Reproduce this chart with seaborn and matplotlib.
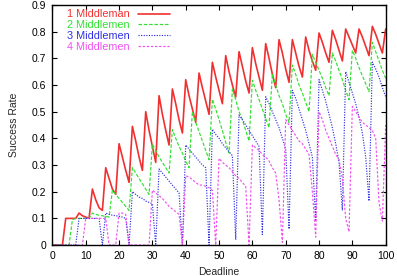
import numpy as np
import pandas as pd
import matplotlib
matplotlib.use("Agg")
import matplotlib.pyplot as plt
import seaborn as sns
from matplotlib.lines import Line2D

# Deadline 0..100
deadline = list(range(0, 101))

# Success rate
one_mm = [0, 0, 0, 0, 0.10, 0.10, 0.10, 0.10, 0.12, 0.11,
          0.105, 0.10, 0.21, 0.17, 0.14, 0.13, 0.29, 0.25, 0.21, 0.19,
          0.38, 0.33, 0.28, 0.235, 0.445, 0.39, 0.33, 0.28, 0.50, 0.43,
          0.37, 0.31, 0.56, 0.49, 0.43, 0.375, 0.585, 0.53, 0.47, 0.42,
          0.62, 0.56, 0.51, 0.46, 0.645, 0.59, 0.54, 0.49, 0.685, 0.63,
          0.58, 0.53, 0.71, 0.65, 0.60, 0.555, 0.725, 0.67, 0.615, 0.57,
          0.74, 0.68, 0.63, 0.58, 0.755, 0.70, 0.64, 0.59, 0.77, 0.72,
          0.66, 0.61, 0.77, 0.72, 0.67, 0.63, 0.78, 0.73, 0.69, 0.655,
          0.795, 0.76, 0.72, 0.685, 0.805, 0.77, 0.73, 0.69, 0.81, 0.78,
          0.75, 0.72, 0.81, 0.78, 0.745, 0.71, 0.82, 0.79, 0.755, 0.72,
          0.81]

two_mm = [0, 0, 0, 0, 0, 0, 0.095, 0.10, 0.10, 0.10,
          0.10, 0.10, 0.12, 0.115, 0.112, 0.11, 0.107, 0.105, 0.205, 0.19,
          0.175, 0.16, 0.145, 0.13, 0.29, 0.27, 0.25, 0.23, 0.21, 0.19,
          0.378, 0.355, 0.33, 0.31, 0.29, 0.27, 0.433, 0.40, 0.37, 0.345,
          0.315, 0.29, 0.50, 0.46, 0.425, 0.39, 0.355, 0.32, 0.547, 0.51,
          0.47, 0.43, 0.385, 0.345, 0.585, 0.545, 0.50, 0.47, 0.43, 0.39,
          0.618, 0.58, 0.545, 0.51, 0.475, 0.44, 0.642, 0.60, 0.56, 0.53,
          0.49, 0.46, 0.675, 0.64, 0.60, 0.57, 0.535, 0.50, 0.715, 0.685,
          0.655, 0.625, 0.59, 0.56, 0.72, 0.69, 0.655, 0.62, 0.58, 0.545,
          0.73, 0.70, 0.665, 0.635, 0.605, 0.575, 0.76, 0.725, 0.69, 0.655,
          0.625]

three_mm = [0, 0, 0, 0, 0, 0, 0, 0, 0.10, 0.10,
            0.10, 0.10, 0.10, 0.10, 0.10, 0, 0.12, 0.115, 0.112, 0.11,
            0.108, 0.105, 0.10, 0, 0.20, 0.19, 0.18, 0.175, 0.165, 0.16,
            0.155, 0, 0.285, 0.27, 0.255, 0.24, 0.225, 0.21, 0.195, 0,
            0.375, 0.36, 0.345, 0.33, 0.315, 0.30, 0.29, 0, 0.434, 0.415,
            0.40, 0.38, 0.365, 0.35, 0.335, 0.02, 0.4875, 0.47, 0.45, 0.43,
            0.41, 0.39, 0.37, 0.04, 0.556, 0.53, 0.50, 0.47, 0.44, 0.40,
            0.36, 0.06, 0.58, 0.55, 0.51, 0.47, 0.43, 0.38, 0.33, 0.09,
            0.62, 0.58, 0.54, 0.49, 0.44, 0.38, 0.31, 0.13, 0.65, 0.61,
            0.57, 0.53, 0.48, 0.42, 0.33, 0.165, 0.686, 0.66, 0.63, 0.59,
            0.556]

four_mm = [0, 0, 0, 0, 0, 0, 0, 0, 0, 0,
           0.10, 0.10, 0.10, 0.10, 0.10, 0.10, 0.10, 0, 0, 0,
           0.12, 0.12, 0.115, 0, 0, 0, 0, 0, 0, 0,
           0.206, 0.195, 0.185, 0.175, 0.16, 0.145, 0.135, 0.125, 0.115, 0,
           0.26, 0.255, 0.245, 0.235, 0.225, 0.225, 0.22, 0.215, 0.205, 0,
           0.325, 0.31, 0.30, 0.29, 0.275, 0.26, 0.25, 0.235, 0.22, 0,
           0.375, 0.365, 0.355, 0.34, 0.33, 0.315, 0.29, 0.27, 0.17, 0.01,
           0.47, 0.45, 0.43, 0.41, 0.39, 0.38, 0.36, 0.34, 0.20, 0.03,
           0.50, 0.47, 0.43, 0.40, 0.37, 0.34, 0.32, 0.25, 0.10, 0.05,
           0.52, 0.50, 0.48, 0.46, 0.45, 0.44, 0.43, 0.40, 0.16, 0.09,
           0.45]

labels = ["1 Middleman", "2 Middlemen", "3 Middlemen", "4 Middlemen"]
colors = ["#f03030", "#30e030", "#3030e0", "#f050f0"]
xticks = [0, 10, 20, 30, 40, 50, 60, 70, 80, 90, 100]
yticks = [0, 0.1, 0.2, 0.3, 0.4, 0.5, 0.6, 0.7, 0.8, 0.9]
ytick_labels = ["0", "0.1", "0.2", "0.3", "0.4", "0.5", "0.6", "0.7", "0.8", "0.9"]

df = pd.DataFrame({
    "Deadline": deadline * 4,
    "Success Rate": one_mm + two_mm + three_mm + four_mm,
    "series": [l for l in labels for _ in deadline],
})

sns.set_style("ticks")
plt.rcParams["font.family"] = ["Liberation Sans", "DejaVu Sans"]

fig = plt.figure(figsize=(3.97, 2.76), dpi=100)
ax = fig.add_axes([0.132, 0.112, 0.8395, 0.870])

dash_map = {labels[0]: "", labels[1]: (3, 1.5), labels[2]: (1, 1.2), labels[3]: (2, 1.5)}
sns.lineplot(data=df, x="Deadline", y="Success Rate", hue="series", style="series",
             palette=dict(zip(labels, colors)), dashes=dash_map, ax=ax, legend=False,
             linewidth=0.85)
# first line a bit heavier, like the original
ax.lines[0].set_linewidth(1.2)

ax.set_xlim(0, 100)
ax.set_ylim(0, 0.9)
ax.set_xticks(xticks)
ax.set_yticks(yticks)
ax.set_yticklabels(ytick_labels)
ax.tick_params(direction="in", length=3.5, width=0.8, top=True, right=True,
               labelsize=7.5, pad=4.5, colors="black")
for s in ax.spines.values():
    s.set_visible(True)
    s.set_linewidth(1.0)
    s.set_color("black")
ax.set_xlabel("Deadline", fontsize=7.5, labelpad=4)
ax.set_ylabel("Success Rate", fontsize=7.5, labelpad=9)

handles = [Line2D([], [], color=colors[0], lw=1.2),
           Line2D([], [], color=colors[1], lw=0.85, dashes=(3, 1.5)),
           Line2D([], [], color=colors[2], lw=0.85, dashes=(1, 1.2)),
           Line2D([], [], color=colors[3], lw=0.85, dashes=(2, 1.5))]
leg = ax.legend(handles, labels, loc="upper left", bbox_to_anchor=(0.03, 1.0),
                frameon=False, fontsize=7.8, markerfirst=False, handlelength=2.9,
                handletextpad=0.8, labelspacing=0.08, borderaxespad=0.0)
for t, c in zip(leg.get_texts(), colors):
    t.set_color(c)

fig.savefig("out.png", dpi=100)
